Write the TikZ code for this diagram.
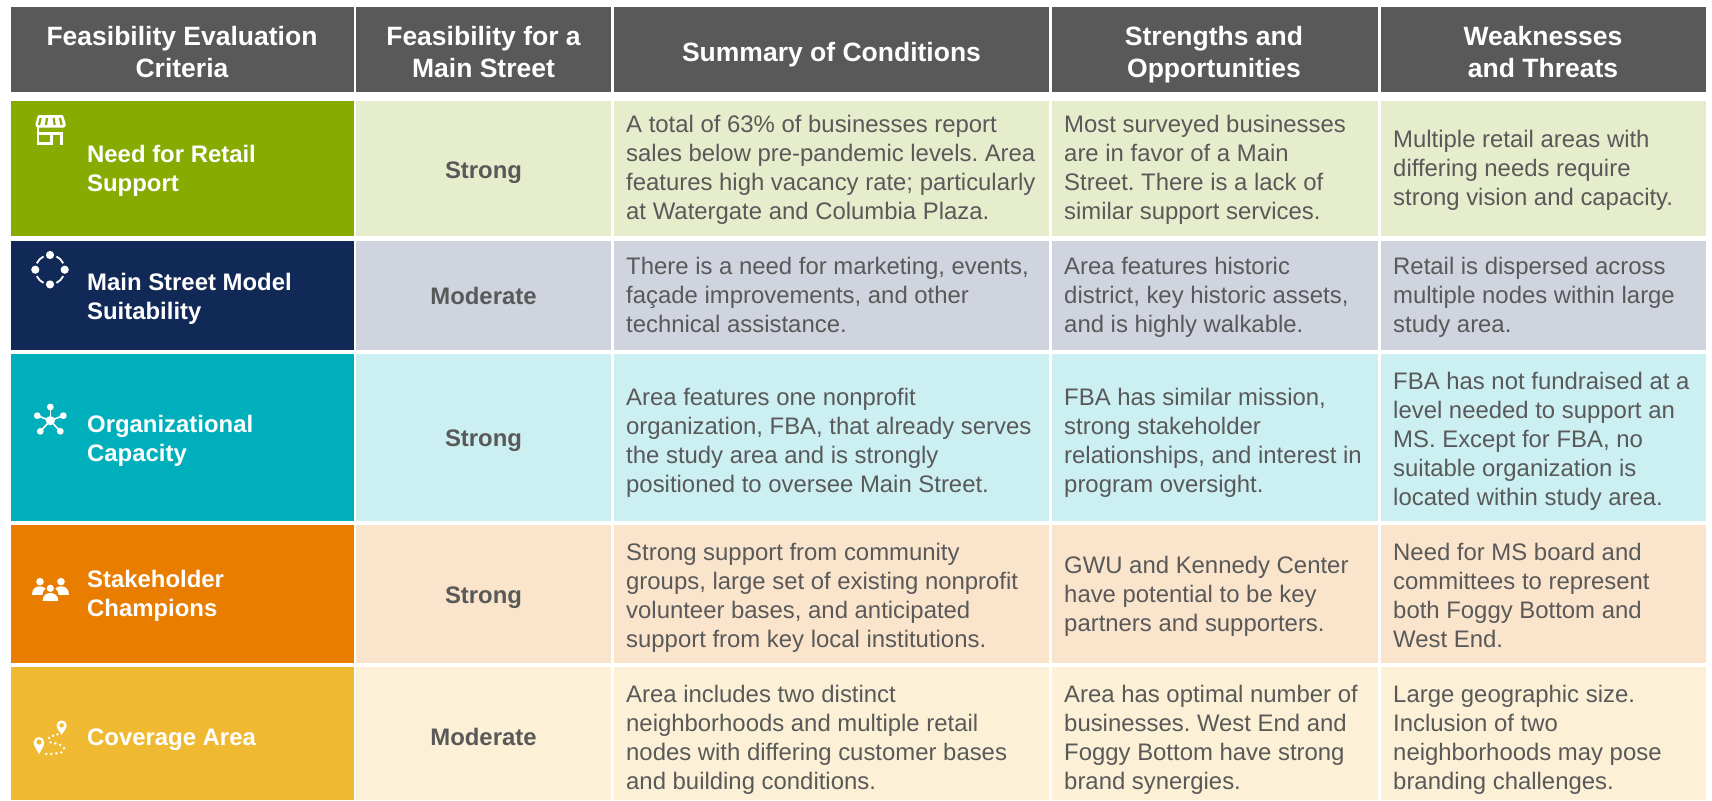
\documentclass[tikz,border=0pt]{standalone}
\usepackage{fontspec}
\setmainfont{Liberation Sans}
\frenchspacing
\definecolor{hdr}{HTML}{595959}
\definecolor{gA}{HTML}{87AB00}\definecolor{gB}{HTML}{E6EDCC}
\definecolor{nA}{HTML}{112956}\definecolor{nB}{HTML}{CFD4DF}
\definecolor{tA}{HTML}{00AFBC}\definecolor{tB}{HTML}{CCEFF2}
\definecolor{oA}{HTML}{E87D00}\definecolor{oB}{HTML}{FAE5CC}
\definecolor{yA}{HTML}{F0B932}\definecolor{yB}{HTML}{FCF1D6}
\tikzset{
 bodytxt/.style={anchor=north west,inner sep=0pt,align=left,text=hdr,font=\fontsize{23.9}{29}\selectfont},
 ratetxt/.style={anchor=north,inner sep=0pt,align=center,text=hdr,font=\fontsize{23.9}{29}\selectfont\bfseries},
 lbltxt/.style={anchor=north west,inner sep=0pt,align=left,text=white,font=\fontsize{23.9}{29}\selectfont\bfseries},
 hdrtxt/.style={anchor=north,inner sep=0pt,align=center,text=white,font=\fontsize{26.5}{32}\selectfont\bfseries},
}
% name, x, first baseline, text
\newcommand\celbt[4]{\node[bodytxt] (#1) at (#2,#3-20.3) {\strut #4};}
\newcommand\celrt[3]{\node[ratetxt] (#1) at (483.5,#2-20.3) {\strut #3};}
\newcommand\cellb[3]{\node[lbltxt] (#1) at (87,#2-20.3) {\strut #3};}
\newcommand\celht[4]{\node[hdrtxt] (#1) at (#2,#3-22.4) {\strut #4};}
\newcommand\rowfill[4]{%
 \fill[#3] (11,#1) rectangle (354,#2);
 \foreach \a/\b in {356.3/611,613.7/1049.3,1052/1377.7,1380.7/1706.3}{\fill[#4] (\a,#1) rectangle (\b,#2);}}
\begin{document}
\begin{tikzpicture}[x=1pt,y=-1pt]
\useasboundingbox (0,0) rectangle (1712,800);
\fill[white] (0,0) rectangle (1712,800);
% header
\foreach \a/\b in {11/354,356.3/611,613.7/1049.3,1052/1377.7,1380.7/1706.3}{\fill[hdr] (\a,7) rectangle (\b,92.3);}
\rowfill{100.7}{236}{gA}{gB}
\rowfill{240.7}{350}{nA}{nB}
\rowfill{354}{520.7}{tA}{tB}
\rowfill{525}{662.7}{oA}{oB}
\rowfill{667}{800}{yA}{yB}
% header text
\celht{h1}{182}{45}{Feasibility Evaluation\\Criteria}
\celht{h2}{483.5}{45}{Feasibility for a\\Main Street}
\celht{h3}{831.5}{61}{Summary of Conditions}
\celht{h4}{1214}{45}{Strengths and\\Opportunities}
\celht{h5}{1543}{45}{Weaknesses\\and Threats}
% labels
\cellb{l1}{162.3}{Need for Retail\\Support}
\cellb{l2}{290}{Main Street Model\\Suitability}
\cellb{l3}{432.5}{Organizational\\Capacity}
\cellb{l4}{587.7}{Stakeholder\\Champions}
\cellb{l5}{745}{Coverage Area}
% ratings
\celrt{r1}{178}{Strong}
\celrt{r2}{304}{Moderate}
\celrt{r3}{446}{Strong}
\celrt{r4}{603}{Strong}
\celrt{r5}{745}{Moderate}
% col 3
\celbt{a1}{626}{132.3}{A total of 63\% of businesses report\\sales below pre-pandemic levels. Area\\features high vacancy rate; particularly\\at Watergate and Columbia Plaza.}
\celbt{a2}{626}{274}{There is a need for marketing, events,\\façade improvements, and other\\technical assistance.}
\celbt{a3}{626}{405}{Area features one nonprofit\\organization, FBA, that already serves\\the study area and is strongly\\positioned to oversee Main Street.}
\celbt{a4}{626}{560}{Strong support from community\\groups, large set of existing nonprofit\\volunteer bases, and anticipated\\support from key local institutions.}
\celbt{a5}{626}{702}{Area includes two distinct\\neighborhoods and multiple retail\\nodes with differing customer bases\\and building conditions.}
% col 4
\celbt{b1}{1064}{132.3}{Most surveyed businesses\\are in favor of a Main\\Street. There is a lack of\\similar support services.}
\celbt{b2}{1064}{274}{Area features historic\\district, key historic assets,\\and is highly walkable.}
\celbt{b3}{1064}{405}{FBA has similar mission,\\strong stakeholder\\relationships, and interest in\\program oversight.}
\celbt{b4}{1064}{573}{GWU and Kennedy Center\\have potential to be key\\partners and supporters.}
\celbt{b5}{1064}{702}{Area has optimal number of\\businesses. West End and\\Foggy Bottom have strong\\brand synergies.}
% col 5
\celbt{c1}{1393}{147}{Multiple retail areas with\\differing needs require\\strong vision and capacity.}
\celbt{c2}{1393}{274}{Retail is dispersed across\\multiple nodes within large\\study area.}
\celbt{c3}{1393}{389}{FBA has not fundraised at a\\level needed to support an\\MS. Except for FBA, no\\suitable organization is\\located within study area.}
\celbt{c4}{1393}{560}{Need for MS board and\\committees to represent\\both Foggy Bottom and\\West End.}
\celbt{c5}{1393}{702}{Large geographic size.\\Inclusion of two\\neighborhoods may pose\\branding challenges.}
% store icon
\begin{scope}[shift={(28,110)},x=.3333pt,y=-.3333pt]
 \fill[white,rounded corners=1pt] (30,15)--(105,15)--(114,44)--(110,53)--(26,53)--(22,44)--cycle;
 \foreach \p/\q in {38/33,57/54,77/80,96/101}{\draw[gA,line width=2.2pt] (\p,24)--(\q,45);}
 \draw[white,line width=2.6pt] (30,52)--(30,101)--(70,101)--(70,70)--(30,70);
 \draw[white,line width=2.6pt] (70,70)--(100,70)--(100,106);
\end{scope}
% ring icon
\begin{scope}[shift={(50,269.7)}]
 \foreach \p in {0,90,180,270}{
  \fill[white] (\p:14.7) circle (4.1);
  \draw[white,line width=1.8pt] (\p+26:14.7) arc[start angle=\p+26,end angle=\p+64,radius=14.7];
 }
\end{scope}
% network icon
\begin{scope}[shift={(0,330)},x=.3333pt,y=-.3333pt]
 \foreach \q in {(151,231),(112,257),(190,257),(121,304),(181,304)}{
  \draw[white,line width=1.6pt] (151,272)--\q;
  \fill[white] \q circle (3.4pt);
 }
 \fill[white] (151,272) circle (4.6pt);
\end{scope}
% people icon
\begin{scope}[shift={(0,330)},x=.3333pt,y=-.3333pt]
 \fill[white] (120,755) circle (3.8pt) (183,755) circle (3.8pt) (151,775) circle (3.6pt);
 \fill[white] (96,795) .. controls (96,775) and (108,769) .. (120,769) .. controls (128,769) and (134,772) .. (137,776) .. controls (130,781) and (127,787) .. (127,795) -- cycle;
 \fill[white] (207,795) .. controls (207,775) and (195,769) .. (183,769) .. controls (175,769) and (169,772) .. (166,776) .. controls (173,781) and (176,787) .. (176,795) -- cycle;
 \fill[white] (128,813) .. controls (128,797) and (138,789) .. (151,789) .. controls (164,789) and (175,797) .. (175,813) -- cycle;
\end{scope}
% coverage icon
\begin{scope}[shift={(28,715)},x=.3333pt,y=-.3333pt]
 \fill[white] (101,60) .. controls (95,48) and (86,42) .. (86,31) arc[start angle=180,end angle=0,radius=5pt] .. controls (116,42) and (107,48) .. (101,60) -- cycle;
 \fill[yA] (101,31) circle (2.2pt);
 \fill[white] (33,118) .. controls (27,104) and (17,94) .. (17,82) arc[start angle=180,end angle=0,radius=5.3pt] .. controls (49,94) and (39,104) .. (33,118) -- cycle;
 \fill[yA] (33,81) circle (2.6pt);
 \foreach \q in {(88,58),(75,62),(63,69),(68,82),(82,85),(97,90),(108,100),(100,112),(85,115),(70,117),(55,117)}{\fill[white] \q circle (1.4pt);}
\end{scope}
\end{tikzpicture}
\end{document}
